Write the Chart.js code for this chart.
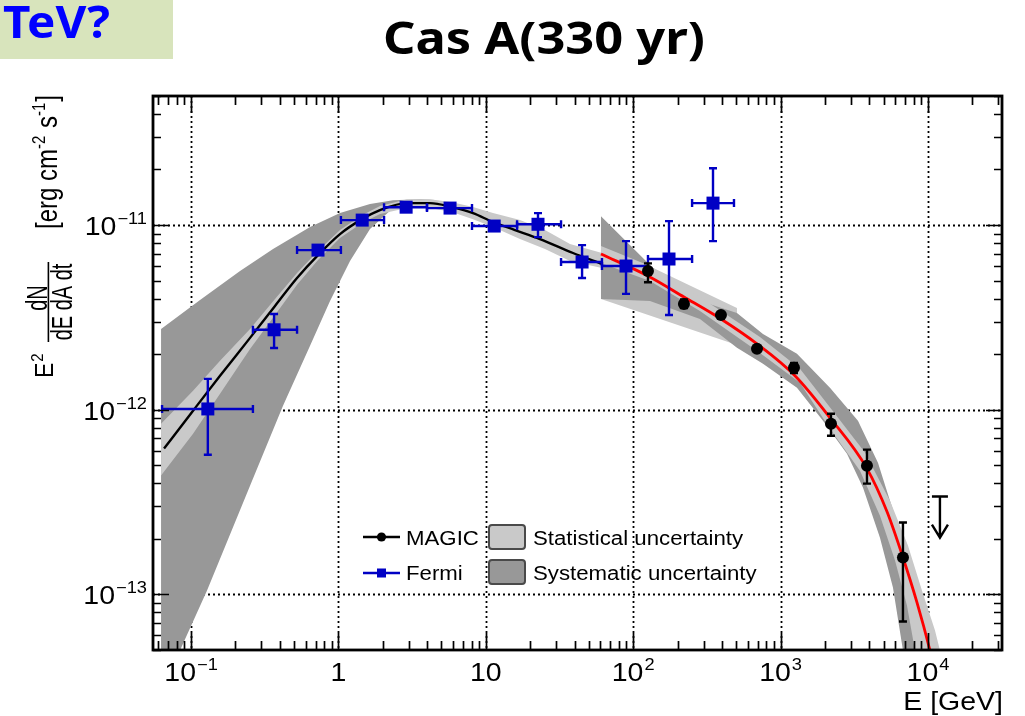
<!DOCTYPE html>
<html>
<head>
<meta charset="utf-8">
<title>Cas A (330 yr) – gamma-ray spectral energy distribution</title>
<script src="https://cdn.jsdelivr.net/npm/chart.js@4.4.1/dist/chart.umd.min.js"></script>
<style>
  html, body { margin: 0; padding: 0; background: #ffffff; overflow: hidden; }
  canvas { display: block; }
</style>
</head>
<body>
<canvas id="sed" width="1025" height="716"></canvas>
<script>
// ---------- axis ranges and tick labels ----------
const X_MIN = 0.0552, X_MAX = 31800;     // E [GeV]
const Y_MIN = 5e-14, Y_MAX = 5e-11;      // E^2 dN/dE [erg cm^-2 s^-1]
const xMajor = [0.1, 1, 10, 100, 1000, 10000];
const xMajorBase = ['10', '1', '10', '10', '10', '10'];
const xMajorExp = ['−1', '', '', '2', '3', '4'];
const yMajor = [1e-13, 1e-12, 1e-11];
const yMajorBase = ['10', '10', '10'];
const yMajorExp = ['−13', '−12', '−11'];

// ---------- Fermi-LAT flux points ----------
const fermiE   = [0.130, 0.366, 0.727, 1.45, 2.88, 5.72, 11.4, 22.6, 45.0, 89.4, 175, 348];
const fermiF   = [1.01e-12, 2.71e-12, 7.32e-12, 1.064e-11, 1.25e-11, 1.236e-11, 9.88e-12, 1.01e-11, 6.31e-12, 6.00e-12, 6.55e-12, 1.315e-11];
const fermiELo = [0.0636, 0.263, 0.524, 1.04, 2.04, 3.99, 8.06, 16.3, 32.4, 61.4, 126, 251];
const fermiEHi = [0.263, 0.524, 1.04, 2.04, 3.99, 8.06, 16.3, 32.4, 61.4, 126, 251, 483];
const fermiFLo = [5.71e-13, 2.16e-12, 6.95e-12, 1.02e-11, 1.20e-11, 1.18e-11, 9.35e-12, 8.61e-12, 5.17e-12, 4.24e-12, 3.26e-12, 8.19e-12];
const fermiFHi = [1.47e-12, 3.30e-12, 7.70e-12, 1.11e-11, 1.30e-11, 1.29e-11, 1.04e-11, 1.16e-11, 7.79e-12, 8.19e-12, 1.05e-11, 2.03e-11];

// ---------- MAGIC flux points ----------
const magicE   = [126, 221, 394, 692, 1233, 2198, 3857, 6767];
const magicF   = [5.64e-12, 3.74e-12, 3.26e-12, 2.14e-12, 1.69e-12, 8.40e-13, 4.98e-13, 1.585e-13];
const magicFLo = [4.9e-12, 3.55e-12, 3.16e-12, 2.07e-12, 1.58e-12, 7.23e-13, 3.98e-13, 7.14e-14];
const magicFHi = [6.2e-12, 3.95e-12, 3.36e-12, 2.20e-12, 1.79e-12, 9.51e-13, 6.08e-13, 2.45e-13];

// ---------- MAGIC upper limit ----------
const ulE = [12060];
const ulF = [3.39e-13];
const ulArrowTip = [2.03e-13];

// ---------- fitted spectra ----------
const fermiFitE = [0.0656, 0.1032, 0.1573, 0.2514, 0.3714, 0.5237, 0.7271, 1.025, 1.446, 1.915, 2.920, 4.182, 5.898, 8.188, 11.19, 15.78, 23.32, 39.05, 61.43];
const fermiFitF = [6.16e-13, 9.88e-13, 1.527e-12, 2.45e-12, 3.65e-12, 5.17e-12, 6.88e-12, 8.94e-12, 1.077e-11, 1.205e-11, 1.315e-11, 1.315e-11, 1.251e-11, 1.161e-11, 1.038e-11, 9.40e-12, 8.40e-12, 7.06e-12, 6.16e-12];
const magicFitE = [60.47, 126.0, 221.1, 394.1, 691.8, 1252, 2163, 3857, 5270, 6767, 8422, 10318, 11510];
const magicFitF = [6.97e-12, 5.30e-12, 4.08e-12, 3.10e-12, 2.274e-12, 1.527e-12, 9.05e-13, 4.80e-13, 2.81e-13, 1.585e-13, 9.05e-14, 4.98e-14, 3.43e-14];

// ---------- uncertainty bands (upper and lower edges) ----------
const fermiSysUpE = [0.0626, 0.1151, 0.215, 0.360, 0.642, 1.025, 1.638, 2.347, 3.578, 4.89];
const fermiSysUpF = [2.74e-12, 3.93e-12, 5.64e-12, 7.415e-12, 9.75e-12, 1.161e-11, 1.299e-11, 1.364e-11, 1.381e-11, 1.364e-11];
const fermiSysLoE = [0.0626, 0.0842, 0.1284, 0.2514, 0.4208, 0.642, 0.877, 1.199, 1.638, 2.347, 3.578, 4.89];
const fermiSysLoF = [3.03e-14, 4.98e-14, 1.051e-13, 3.88e-13, 1.051e-12, 2.218e-12, 3.88e-12, 6.39e-12, 9.51e-12, 1.236e-11, 1.364e-11, 1.364e-11];

const fermiStatE   = [0.0626, 0.1032, 0.1573, 0.2514, 0.3714, 0.5237, 0.7271, 1.025, 1.446, 1.915, 2.920, 4.182, 5.898, 8.188, 11.19, 17.06, 25.21, 37.26, 61.43];
const fermiStatUpF = [8.40e-13, 1.267e-12, 1.84e-12, 2.74e-12, 3.98e-12, 5.50e-12, 7.23e-12, 9.40e-12, 1.132e-11, 1.267e-11, 1.381e-11, 1.381e-11, 1.331e-11, 1.251e-11, 1.161e-11, 1.064e-11, 9.40e-12, 7.89e-12, 7.06e-12];
const fermiStatLoF = [4.40e-13, 7.42e-13, 1.22e-12, 2.136e-12, 3.26e-12, 4.75e-12, 6.47e-12, 8.51e-12, 1.025e-11, 1.147e-11, 1.236e-11, 1.236e-11, 1.176e-11, 1.077e-11, 9.75e-12, 8.40e-12, 7.42e-12, 6.39e-12, 5.86e-12];

const fermiStatHiE   = [60.47, 506];
const fermiStatHiUpF = [7.99e-12, 3.56e-12];
const fermiStatHiLoF = [3.98e-12, 2.245e-12];

const magicSysUpE = [60.47, 126.0, 177.7, 283.9, 506, 759.8, 1292, 2163, 3351, 4580, 5525, 6767, 8288, 10000, 10812];
const magicSysUpF = [1.118e-11, 6.23e-12, 4.68e-12, 3.88e-12, 3.34e-12, 2.575e-12, 2.008e-12, 1.315e-12, 8.72e-13, 5.17e-13, 3.22e-13, 1.958e-13, 1.051e-13, 5.64e-14, 3.88e-14];
const magicSysLoE = [60.47, 130.0, 283.9, 506, 759.8, 1292, 1940, 2822, 3622, 4725, 5788, 6767, 7092];
const magicSysLoF = [3.98e-12, 3.88e-12, 3.10e-12, 2.163e-12, 1.773e-12, 1.315e-12, 8.72e-13, 5.78e-13, 3.79e-13, 2.03e-13, 1.091e-13, 4.98e-14, 3.88e-14];

const magicStatUpE = [60.47, 130.0, 283.9, 724.9, 1354, 2339, 3737, 5525, 7317, 9107, 11156, 13038];
const magicStatUpF = [7.70e-12, 6.00e-12, 4.08e-12, 2.48e-12, 1.665e-12, 9.51e-13, 5.86e-13, 3.22e-13, 1.84e-13, 1.051e-13, 6.39e-14, 3.88e-14];
const magicStatLoE = [60.47, 130.0, 283.9, 724.9, 1354, 2163, 3457, 4725, 5973, 7204, 8163, 8555];
const magicStatLoF = [6.23e-12, 4.98e-12, 3.43e-12, 2.03e-12, 1.40e-12, 7.89e-13, 4.68e-13, 2.67e-13, 1.53e-13, 8.72e-14, 4.98e-14, 3.88e-14];

// ---------- legend text ----------
const seriesNames = ['MAGIC', 'Fermi'];
const bandNames = ['Statistical uncertainty', 'Systematic uncertainty'];

// ---------- styling ----------
const STAT_GRAY = '#c9c9c9';
const SYS_GRAY = '#989898';
const FERMI_BLUE = '#0000c4';
const FIT_RED = '#ff0000';
const SX = 1.14;                                   // horizontal text stretch
const FONT = '"Liberation Sans", Arial, Helvetica, sans-serif';
const TITLE_FONT = '"Noto Sans", "Open Sans", sans-serif';

function pairs(xs, ys) { return xs.map((v, i) => ({ x: v, y: ys[i] })); }
// closed outline: upper edge left to right, then lower edge back right to left
function outline(upE, upF, loE, loF) {
  const pts = pairs(upE, upF).concat(pairs(loE, loF).reverse());
  pts.push({ x: upE[0], y: upF[0] });
  return pts;
}

function bandSet(data, color, order) {
  return { data, order, fill: 'shape', backgroundColor: color, borderWidth: 0,
           pointRadius: 0, tension: 0 };
}

// ---------- text helpers ----------
function textWidth(ctx, s, font, sx) {
  ctx.save(); ctx.font = font; const w = ctx.measureText(s).width * sx; ctx.restore(); return w;
}
function drawText(ctx, s, x, y, font, opts = {}) {
  const sx = opts.sx || SX;
  const w = textWidth(ctx, s, font, sx);
  let x0 = x;
  if (opts.align === 'center') x0 = x - w / 2;
  else if (opts.align === 'right') x0 = x - w;
  ctx.save();
  ctx.font = font;
  ctx.fillStyle = opts.color || '#000';
  ctx.textAlign = 'left';
  ctx.textBaseline = 'alphabetic';
  ctx.translate(x0, y);
  ctx.scale(sx, 1);
  ctx.fillText(s, 0, 0);
  ctx.restore();
  return w;
}
function drawFitted(ctx, s, x, y, font, width, color) {
  const natural = textWidth(ctx, s, font, 1);
  drawText(ctx, s, x, y, font, { sx: width / natural, color });
}
function powerLabel(ctx, base, exp, x, y, align) {
  const big = '25px ' + FONT, small = '16px ' + FONT;
  const wb = textWidth(ctx, base, big, SX);
  const we = exp ? textWidth(ctx, exp, small, SX) + 1 : 0;
  const w = wb + we;
  const x0 = align === 'center' ? x - w / 2 : align === 'right' ? x - w : x;
  drawText(ctx, base, x0, y, big);
  if (exp) drawText(ctx, exp, x0 + wb + 1, y - 11, small);
}
// text running bottom-to-top; bx = baseline column, sy = anchor row
function rotText(ctx, s, bx, sy, size, ys, align) {
  ctx.save();
  ctx.translate(bx, sy);
  ctx.rotate(-Math.PI / 2);
  ctx.scale(1, ys);
  ctx.font = size + 'px ' + FONT;
  ctx.textAlign = align || 'left';
  ctx.textBaseline = 'alphabetic';
  ctx.fillStyle = '#000';
  ctx.fillText(s, 0, 0);
  const w = ctx.measureText(s).width;
  ctx.restore();
  return w;
}

// ---------- plugins ----------
const gridPlugin = {
  id: 'decadeGrid',
  beforeDatasetsDraw(chart) {
    const { ctx, chartArea: a, scales: { x, y } } = chart;
    ctx.save();
    ctx.beginPath(); ctx.rect(a.left, a.top, a.width, a.height); ctx.clip();
    ctx.setLineDash([2, 3]);
    ctx.strokeStyle = '#000';
    ctx.lineWidth = 1.8;
    for (const v of xMajor) {
      const px = Math.round(x.getPixelForValue(v)) + 0.5;
      ctx.beginPath(); ctx.moveTo(px, a.top); ctx.lineTo(px, a.bottom); ctx.stroke();
    }
    for (const v of yMajor) {
      const py = Math.round(y.getPixelForValue(v)) + 0.5;
      ctx.beginPath(); ctx.moveTo(a.left, py); ctx.lineTo(a.right, py); ctx.stroke();
    }
    ctx.restore();
  }
};

const errorBarPlugin = {
  id: 'errorBars',
  beforeDatasetDraw(chart, args) {
    const ds = chart.data.datasets[args.index];
    if (!ds.errors) return;
    const { ctx, chartArea: a, scales: { x, y } } = chart;
    const e = ds.errors;
    ctx.save();
    ctx.beginPath(); ctx.rect(a.left, a.top, a.width, a.height); ctx.clip();
    ctx.strokeStyle = e.color;
    ctx.lineWidth = e.width;
    const cap = e.cap;
    ds.data.forEach((p, i) => {
      const px = x.getPixelForValue(p.x), py = y.getPixelForValue(p.y);
      ctx.beginPath();
      if (e.yLo) {
        const t = y.getPixelForValue(e.yHi[i]), b = y.getPixelForValue(e.yLo[i]);
        ctx.moveTo(px, t); ctx.lineTo(px, b);
        ctx.moveTo(px - cap, t); ctx.lineTo(px + cap, t);
        ctx.moveTo(px - cap, b); ctx.lineTo(px + cap, b);
      }
      if (e.xLo) {
        const l = x.getPixelForValue(e.xLo[i]), r = x.getPixelForValue(e.xHi[i]);
        ctx.moveTo(l, py); ctx.lineTo(r, py);
        ctx.moveTo(l, py - cap); ctx.lineTo(l, py + cap);
        ctx.moveTo(r, py - cap); ctx.lineTo(r, py + cap);
      }
      ctx.stroke();
    });
    ctx.restore();
  }
};

const framePlugin = {
  id: 'frameAndAnnotations',
  afterDatasetsDraw(chart) {
    const { ctx, chartArea: a, scales: { x, y } } = chart;
    // upper limit arrow
    ctx.save();
    ctx.strokeStyle = '#000';
    ctx.lineWidth = 2.4;
    ulE.forEach((E, i) => {
      const px = x.getPixelForValue(E);
      const top = y.getPixelForValue(ulF[i]);
      const tip = y.getPixelForValue(ulArrowTip[i]);
      ctx.beginPath();
      ctx.moveTo(px - 8, top); ctx.lineTo(px + 8, top);
      ctx.moveTo(px, top); ctx.lineTo(px, tip);
      ctx.moveTo(px - 8, tip - 13); ctx.lineTo(px, tip); ctx.lineTo(px + 8, tip - 13);
      ctx.stroke();
    });
    ctx.restore();

    // frame with inward ticks on all four sides
    ctx.save();
    ctx.strokeStyle = '#000';
    ctx.lineWidth = 1.7;
    ctx.beginPath();
    for (let d = 0.01; d <= 1e4 * 1.01; d *= 10) {
      for (let k = 1; k <= 9; k++) {
        const v = k * d;
        if (v < X_MIN || v > X_MAX) continue;
        const px = Math.round(x.getPixelForValue(v)) + 0.5;
        const len = k === 1 ? 17 : 9;
        ctx.moveTo(px, a.bottom); ctx.lineTo(px, a.bottom - len);
        ctx.moveTo(px, a.top); ctx.lineTo(px, a.top + len);
      }
    }
    for (let d = 1e-14; d <= 1e-11 * 1.01; d *= 10) {
      for (let k = 1; k <= 9; k++) {
        const v = k * d;
        if (v < Y_MIN || v > Y_MAX) continue;
        const py = Math.round(y.getPixelForValue(v)) + 0.5;
        const len = k === 1 ? 16 : 8;
        ctx.moveTo(a.left, py); ctx.lineTo(a.left + len, py);
        ctx.moveTo(a.right, py); ctx.lineTo(a.right - len, py);
      }
    }
    ctx.stroke();
    ctx.lineWidth = 2.8;
    ctx.strokeRect(a.left, a.top, a.width, a.height);
    ctx.restore();

    // tick labels
    xMajor.forEach((v, i) => powerLabel(ctx, xMajorBase[i], xMajorExp[i], x.getPixelForValue(v), 681, 'center'));
    yMajor.forEach((v, i) => powerLabel(ctx, yMajorBase[i], yMajorExp[i], 147, y.getPixelForValue(v) + 10, 'right'));
  },
  afterDraw(chart) {
    const ctx = chart.ctx;
    drawText(ctx, 'E [GeV]', 1003, 710, '25px ' + FONT, { align: 'right' });
    drawYTitle(ctx);
    drawLegend(ctx);
    ctx.save(); ctx.fillStyle = '#d8e4bc'; ctx.fillRect(0, 0, 173, 59); ctx.restore();
    drawFitted(ctx, 'TeV?', 3, 38, 'bold 45px ' + TITLE_FONT, 107, '#0000ff');
    drawFitted(ctx, 'Cas A(330 yr)', 383, 54, 'bold 44px ' + TITLE_FONT, 322, '#000');
  }
};

function drawYTitle(ctx) {
  // E^2
  const wE = rotText(ctx, 'E', 53, 378, 23, 1.15);
  rotText(ctx, '2', 43, 378 - wE - 1, 15, 1.15);
  // fraction dN / dE dA dt
  ctx.save(); ctx.fillStyle = '#000'; ctx.fillRect(47.6, 262, 1.6, 80); ctx.restore();
  rotText(ctx, 'dN', 46.5, 298, 20, 1.45, 'center');
  rotText(ctx, 'dE dA dt', 72, 302, 20, 1.45, 'center');
  // units
  let sy = 229;
  const parts = [['[erg cm', 24, 57], ['-2', 15, 45], [' s', 24, 57], ['-1', 15, 45], [']', 24, 57]];
  for (const [t, sz, bx] of parts) {
    sy -= rotText(ctx, t, bx, sy, sz, 1.22) + (sz < 20 ? 1 : 0);
  }
}

function roundRect(ctx, x, y, w, h, r) {
  ctx.beginPath();
  ctx.moveTo(x + r, y); ctx.lineTo(x + w - r, y); ctx.quadraticCurveTo(x + w, y, x + w, y + r);
  ctx.lineTo(x + w, y + h - r); ctx.quadraticCurveTo(x + w, y + h, x + w - r, y + h);
  ctx.lineTo(x + r, y + h); ctx.quadraticCurveTo(x, y + h, x, y + h - r);
  ctx.lineTo(x, y + r); ctx.quadraticCurveTo(x, y, x + r, y);
  ctx.closePath();
}

function drawLegend(ctx) {
  const font = '19.5px ' + FONT;
  ctx.save();
  ctx.strokeStyle = '#000'; ctx.lineWidth = 2.5;
  ctx.beginPath(); ctx.moveTo(363, 537); ctx.lineTo(400, 537); ctx.stroke();
  ctx.fillStyle = '#000';
  ctx.beginPath(); ctx.arc(381.5, 537, 4.6, 0, Math.PI * 2); ctx.fill();
  ctx.strokeStyle = FERMI_BLUE;
  ctx.beginPath(); ctx.moveTo(363, 573); ctx.lineTo(400, 573); ctx.stroke();
  ctx.fillStyle = FERMI_BLUE;
  ctx.fillRect(377, 568.5, 9, 9);
  ctx.lineWidth = 2;
  ctx.strokeStyle = '#4a4a4a';
  roundRect(ctx, 489, 525, 36, 24, 3); ctx.fillStyle = STAT_GRAY; ctx.fill(); ctx.stroke();
  roundRect(ctx, 489, 560, 36, 24, 3); ctx.fillStyle = SYS_GRAY; ctx.fill(); ctx.stroke();
  ctx.restore();
  drawText(ctx, seriesNames[0], 406, 545, font);
  drawText(ctx, seriesNames[1], 406, 580, font);
  drawText(ctx, bandNames[0], 533, 545, font);
  drawText(ctx, bandNames[1], 533, 580, font);
}

// ---------- chart ----------
new Chart(document.getElementById('sed'), {
  type: 'line',
  data: {
    datasets: [
      bandSet(outline(fermiSysUpE, fermiSysUpF, fermiSysLoE, fermiSysLoF), SYS_GRAY, 20),
      bandSet(outline(fermiStatHiE, fermiStatHiUpF, fermiStatHiE, fermiStatHiLoF), STAT_GRAY, 19),
      bandSet(outline(magicSysUpE, magicSysUpF, magicSysLoE, magicSysLoF), SYS_GRAY, 18),
      bandSet(outline(fermiStatE, fermiStatUpF, fermiStatE, fermiStatLoF), STAT_GRAY, 17),
      bandSet(outline(magicStatUpE, magicStatUpF, magicStatLoE, magicStatLoF), STAT_GRAY, 16),
      { data: pairs(fermiFitE, fermiFitF), order: 10, borderColor: '#000', borderWidth: 2.4,
        pointRadius: 0, cubicInterpolationMode: 'monotone', fill: false },
      { data: pairs(magicFitE, magicFitF), order: 9, borderColor: FIT_RED, borderWidth: 2.8,
        pointRadius: 0, cubicInterpolationMode: 'monotone', fill: false },
      { data: pairs(fermiE, fermiF), order: 2, showLine: false, pointStyle: 'rect',
        pointRadius: 9.2, pointBackgroundColor: FERMI_BLUE, pointBorderWidth: 0,
        errors: { xLo: fermiELo, xHi: fermiEHi, yLo: fermiFLo, yHi: fermiFHi, color: FERMI_BLUE, width: 2.4, cap: 4 } },
      { data: pairs(magicE, magicF), order: 1, showLine: false, pointStyle: 'circle',
        pointRadius: 6, pointBackgroundColor: '#000', pointBorderWidth: 0,
        errors: { yLo: magicFLo, yHi: magicFHi, color: '#000', width: 2.4, cap: 4 } }
    ]
  },
  options: {
    responsive: false,
    animation: false,
    events: [],
    layout: { padding: { left: 153, right: 23, top: 96, bottom: 66 } },
    scales: {
      x: { type: 'logarithmic', min: X_MIN, max: X_MAX, display: false },
      y: { type: 'logarithmic', min: Y_MIN, max: Y_MAX, display: false }
    },
    plugins: { legend: { display: false }, tooltip: { enabled: false }, title: { display: false } }
  },
  plugins: [gridPlugin, errorBarPlugin, framePlugin]
});
</script>
</body>
</html>
